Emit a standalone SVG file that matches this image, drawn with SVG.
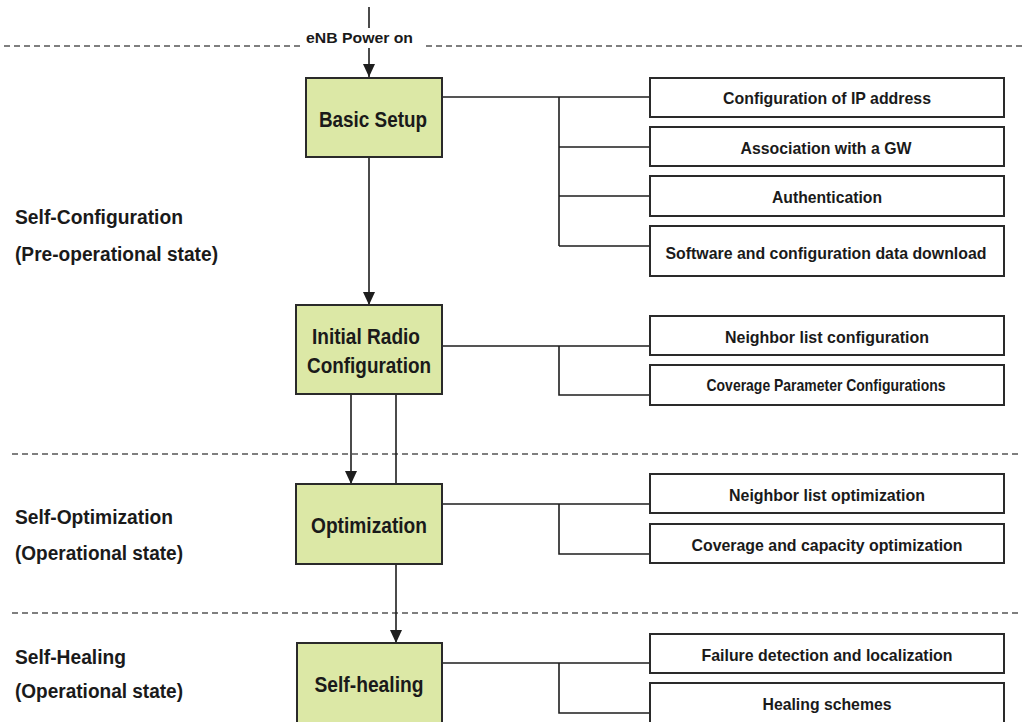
<svg xmlns="http://www.w3.org/2000/svg" width="1024" height="722" viewBox="0 0 1024 722">
<style>
  text { font-family: "Liberation Sans", Arial, sans-serif; font-weight: bold; fill: #1a1a1a; }
  .main { font-size: 21.5px; text-anchor: middle; }
  .sub { font-size: 17px; text-anchor: middle; }
  .side { font-size: 20px; }
  .green { fill: #dce8a6; stroke: #2a2a2a; stroke-width: 2; }
  .item { fill: #ffffff; stroke: #2a2a2a; stroke-width: 2; }
  .conn { stroke: #1e1e1e; stroke-width: 1.6; fill: none; }
  .dash { stroke: #555; stroke-width: 1.5; stroke-dasharray: 6 4; fill: none; }
</style>
<defs>
  <marker id="arr" markerUnits="userSpaceOnUse" markerWidth="14" markerHeight="12" refX="13" refY="6" orient="auto" viewBox="0 0 14 12">
    <path d="M0,0 L13,6 L0,12 Z" fill="#1e1e1e"/>
  </marker>
</defs>

<g id="separators">
  <line class="dash" x1="4" y1="46" x2="303" y2="46"/>
  <line class="dash" x1="426" y1="46" x2="1022" y2="46"/>
  <line class="dash" x1="12" y1="454" x2="1022" y2="454"/>
  <line class="dash" x1="12" y1="613" x2="1022" y2="613"/>
</g>

<g id="phase-labels">
  <text class="side" x="15" y="224" textLength="168" lengthAdjust="spacingAndGlyphs">Self-Configuration</text>
  <text class="side" x="15" y="261" textLength="203" lengthAdjust="spacingAndGlyphs">(Pre-operational state)</text>
  <text class="side" x="15" y="524" textLength="158" lengthAdjust="spacingAndGlyphs">Self-Optimization</text>
  <text class="side" x="15" y="560" textLength="168" lengthAdjust="spacingAndGlyphs">(Operational state)</text>
  <text class="side" x="15" y="664" textLength="111" lengthAdjust="spacingAndGlyphs">Self-Healing</text>
  <text class="side" x="15" y="698" textLength="168" lengthAdjust="spacingAndGlyphs">(Operational state)</text>
</g>

<g id="start">
  <text x="306" y="43" font-size="15.5" textLength="107" lengthAdjust="spacingAndGlyphs">eNB Power on</text>
</g>

<g id="connectors">
  <line class="conn" x1="369" y1="7" x2="369" y2="28"/>
  <line class="conn" x1="369" y1="48" x2="369" y2="77" marker-end="url(#arr)"/>
  <line class="conn" x1="369" y1="157" x2="369" y2="305" marker-end="url(#arr)"/>
  <line class="conn" x1="351" y1="394" x2="351" y2="484" marker-end="url(#arr)"/>
  <line class="conn" x1="396" y1="394" x2="396" y2="484"/>
  <line class="conn" x1="396" y1="564" x2="396" y2="643" marker-end="url(#arr)"/>

  <path class="conn" d="M442,97 H650 M559,97 V246 M559,147 H650 M559,196 H650 M559,246 H650"/>
  <path class="conn" d="M442,346 H650 M559,346 V395 H650"/>
  <path class="conn" d="M442,504 H650 M559,504 V554 H650"/>
  <path class="conn" d="M442,663 H650 M559,663 V713 H650"/>
</g>

<g id="basic-setup">
  <rect class="green" x="306" y="78" width="136" height="79"/>
  <text class="main" x="373" y="127" textLength="108" lengthAdjust="spacingAndGlyphs">Basic Setup</text>
</g>
<g id="initial-radio">
  <rect class="green" x="296" y="305" width="146" height="89"/>
  <text class="main" x="366" y="344" textLength="108" lengthAdjust="spacingAndGlyphs">Initial Radio</text>
  <text class="main" x="369" y="373" textLength="124" lengthAdjust="spacingAndGlyphs">Configuration</text>
</g>
<g id="optimization">
  <rect class="green" x="296" y="484" width="146" height="80"/>
  <text class="main" x="369" y="533" textLength="116" lengthAdjust="spacingAndGlyphs">Optimization</text>
</g>
<g id="self-healing">
  <rect class="green" x="297" y="643" width="145" height="90"/>
  <text class="main" x="369" y="692" textLength="109" lengthAdjust="spacingAndGlyphs">Self-healing</text>
</g>

<g id="ip-address">
  <rect class="item" x="650" y="78" width="354" height="39"/>
  <text class="sub" x="827" y="104" textLength="208" lengthAdjust="spacingAndGlyphs">Configuration of IP address</text>
</g>
<g id="gw">
  <rect class="item" x="650" y="127" width="354" height="39"/>
  <text class="sub" x="826" y="154" textLength="171" lengthAdjust="spacingAndGlyphs">Association with a GW</text>
</g>
<g id="auth">
  <rect class="item" x="650" y="176" width="354" height="40"/>
  <text class="sub" x="827" y="203" textLength="110" lengthAdjust="spacingAndGlyphs">Authentication</text>
</g>
<g id="download">
  <rect class="item" x="650" y="226" width="354" height="50"/>
  <text class="sub" x="826" y="259" textLength="321" lengthAdjust="spacingAndGlyphs">Software and configuration data download</text>
</g>
<g id="nl-config">
  <rect class="item" x="650" y="316" width="354" height="39"/>
  <text class="sub" x="827" y="343" textLength="204" lengthAdjust="spacingAndGlyphs">Neighbor list configuration</text>
</g>
<g id="coverage-param">
  <rect class="item" x="650" y="365" width="354" height="40"/>
  <text class="sub" x="826" y="391" textLength="239" lengthAdjust="spacingAndGlyphs">Coverage Parameter Configurations</text>
</g>
<g id="nl-opt">
  <rect class="item" x="650" y="474" width="354" height="39"/>
  <text class="sub" x="827" y="501" textLength="196" lengthAdjust="spacingAndGlyphs">Neighbor list optimization</text>
</g>
<g id="cco">
  <rect class="item" x="650" y="524" width="354" height="39"/>
  <text class="sub" x="827" y="551" textLength="271" lengthAdjust="spacingAndGlyphs">Coverage and capacity optimization</text>
</g>
<g id="failure">
  <rect class="item" x="650" y="634" width="354" height="39"/>
  <text class="sub" x="827" y="661" textLength="251" lengthAdjust="spacingAndGlyphs">Failure detection and localization</text>
</g>
<g id="healing-schemes">
  <rect class="item" x="650" y="683" width="354" height="45"/>
  <text class="sub" x="827" y="710" textLength="129" lengthAdjust="spacingAndGlyphs">Healing schemes</text>
</g>
</svg>
